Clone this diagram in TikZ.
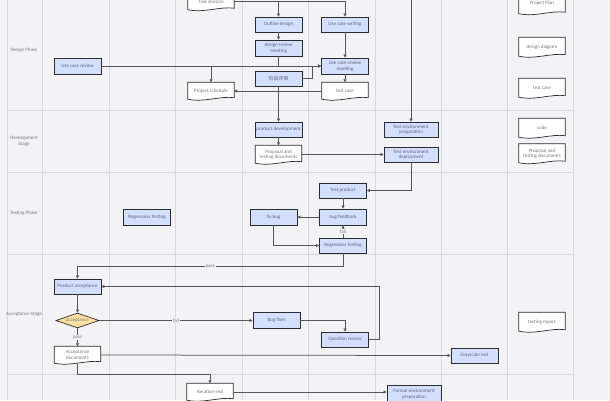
\documentclass[tikz,border=0pt]{standalone}
\usepackage{fontspec}
\setmainfont{Carlito}
\newfontfamily\cjk{Noto Sans CJK SC}
\usetikzlibrary{arrows.meta,calc,shapes.geometric}

\definecolor{bg}{HTML}{F3F3F5}
\definecolor{gridgray}{HTML}{D9D9DC}
\definecolor{boxblue}{HTML}{D3DFFB}
\definecolor{boxline}{HTML}{2B2B33}
\definecolor{boxtext}{HTML}{5C6284}
\definecolor{doctext}{HTML}{77777F}
\definecolor{linkgray}{HTML}{55555B}
\definecolor{decfill}{HTML}{FFE2A0}

\pgfdeclarelayer{background}
\pgfdeclarelayer{docs}
\pgfsetlayers{background,docs,main}

% document shape with a wavy bottom, drawn behind the node text
\newcommand{\docshape}[1]{%
  \begin{pgfonlayer}{docs}
  \draw[draw=boxline,fill=white,line width=0.7pt]
    (#1.north west) -- (#1.north east) -- ([yshift=2pt]#1.south east)
    .. controls ($(#1.south east)!0.3!(#1.south west)+(0,4pt)$)
    and ($(#1.south east)!0.65!(#1.south west)+(0,-3pt)$) ..
    ([yshift=0.5pt]#1.south west) -- cycle;
  \end{pgfonlayer}}

\begin{document}
\begin{tikzpicture}[
    x=1pt, y=-1pt,
    font=\fontsize{5}{5.6}\selectfont,
    proc/.style={draw=boxline,fill=boxblue,line width=0.8pt,minimum width=47pt,
        minimum height=15pt,inner sep=1pt,text=boxtext,align=center},
    wide/.style={proc,minimum width=54pt},
    doc/.style={minimum width=46pt,minimum height=17pt,inner sep=1pt,
        text=doctext,align=center},
    decision/.style={diamond,draw=boxline,fill=decfill,line width=0.7pt,
        minimum width=43pt,minimum height=15pt,inner sep=0pt,aspect=2.8,text=doctext},
    lane/.style={align=center,text=doctext},
    grid/.style={draw=gridgray,line width=0.8pt},
    link/.style={draw=linkgray,line width=0.75pt,-{Triangle[length=3pt,width=3pt]}},
    tag/.style={fill=bg,inner sep=1pt,text=doctext}
]
\useasboundingbox (0,0) rectangle (610,400);

% Swimlane grid
\begin{pgfonlayer}{background}
\fill[bg] (0,0) rectangle (610,400);
\foreach \x in {7,42,109,175,242,308,375,441,507,573}
    \draw[grid] (\x,0) -- (\x,400);
\foreach \y in {110,172,254,374}
    \draw[grid] (7,\y) -- (573,\y);
\end{pgfonlayer}

\node[lane] (design) at (24,50) {Design Phase};
\node[lane] (development) at (24,141) {Development\\Stage};
\node[lane] (testing) at (24,213) {Testing Phase};
\node[lane] (acceptance) at (24,314) {Acceptance Stage};

% Design phase
\node[doc] (task) at (211,1.5) {Task division};
\node[proc] (outline) at (278.5,24.5) {Outline design};
\node[proc] (ucwrite) at (345,24.5) {Use case writing};
\node[proc,minimum height=16pt] (dreview) at (278.5,48) {design review\\meeting};
\node[proc,minimum height=16pt] (ucmeet) at (345,66) {Use case review\\meeting};
\node[proc] (stage) at (278.5,78.5) {\cjk 阶段评审};
\node[doc] (sched) at (211,91) {Project schedule};
\node[doc] (tcase) at (345,91) {test case};
\node[proc,minimum height=16pt] (ucreview) at (77.5,66) {Use case review};

\node[doc,minimum height=22pt] (plan) at (542,3) {Project Plan};
\node[doc,minimum height=19pt] (diagram) at (542,47) {design diagram};
\node[doc,minimum height=19pt] (tcasedoc) at (542,88) {test case};

\coordinate (topin) at (411,0);

% Development stage
\node[proc] (develop) at (278.5,129.5) {product development};
\node[doc,minimum height=18pt] (propdoc) at (278.5,154.5) {Proposal and\\testing documents};
\node[wide] (envprep) at (411,129.5) {Test environment\\preparation};
\node[wide] (envdeploy) at (411,154.5) {Test environment\\deployment};
\node[doc,minimum height=19pt] (code) at (542,128) {code};
\node[doc,minimum height=19pt] (propdoc2) at (542,153.5) {Proposal and\\testing documents};

% Testing phase
\node[proc] (testprod) at (343,190.5) {Test product};
\node[proc,minimum height=16pt] (feedback) at (343,217) {bug feedback};
\node[proc,minimum height=16pt] (fixbug) at (273.5,217) {fix bug};
\node[proc] (regress) at (343,245.5) {Regression Testing};
\node[proc,minimum height=16pt] (regressleft) at (147,217) {Regression Testing};

% Acceptance stage
\node[proc] (accept) at (77.5,286.5) {Product acceptance};
\node[decision] (check) at (77.5,320.5) {acceptance};
\node[doc] (accdoc) at (77.5,355) {Acceptance\\documents};
\node[proc,minimum height=16pt] (bugfix) at (276.5,320.5) {Bug fixes};
\node[proc] (question) at (345,339.5) {Question review};
\node[proc] (gray) at (474.5,355.5) {Grayscale test};
\node[doc,minimum height=19pt] (report) at (542,322) {testing report};

% next stage
\node[doc] (iterend) at (210,392) {iteration end};
\node[wide,minimum height=18pt] (formal) at (414,394) {Formal environment\\preparation};

\foreach \d in {task,sched,tcase,plan,diagram,tcasedoc,propdoc,code,propdoc2,
    accdoc,report,iterend}
    \docshape{\d};

% Connectors
\draw[link] (task.east) -| (ucwrite.north);
\draw[link] (task.east -| outline.north) -- (outline.north);
\draw[link] (outline) -- (dreview);
\draw[link] (ucwrite) -- (ucmeet);
\draw[link] (ucreview) -- (ucmeet);
\draw[link] (dreview.south) -- (dreview.south |- ucreview.east) -| (sched.north);
\draw[link] (stage.east) -- ++(10pt,0) |- (ucmeet.west);
\draw[link] (stage) -- (develop);
\draw[link] (ucmeet) -- (tcase);
\draw[link] (tcase) -- (sched);
\draw[link] (topin) -- (envprep);

\draw[link] (develop) -- (propdoc);
\draw[link] (propdoc.east) -- (envdeploy.west);
\draw[link] (envdeploy.south) |- (testprod.east);

\draw[link] (testprod) -- (feedback);
\draw[link] (feedback) -- (fixbug);
\draw[link] (fixbug.south) |- (regress.west);
\draw[link] (regress) -- node[tag] {fail} (feedback);
\draw[link] (regress.south) -- ++(0,-13pt) -| node[tag,pos=0.25] {pass} (accept.north);

\draw[link] (accept) -- (check);
\draw[link] (check) -- node[tag] {pass} (accdoc);
\draw[link] (check) -- node[tag] {fail} (bugfix);
\draw[link] (bugfix.east) -| (question.north);
\draw[link] (question.east) -- ++(10pt,0) |- (accept.east);
\draw[link] (accdoc.east) -- (gray.west);
\draw[link] (accdoc.south) -- ++(0,-11pt) -| (iterend.north);
\draw[link] (iterend.east) -- (iterend.east -| formal.west);

\end{tikzpicture}
\end{document}
